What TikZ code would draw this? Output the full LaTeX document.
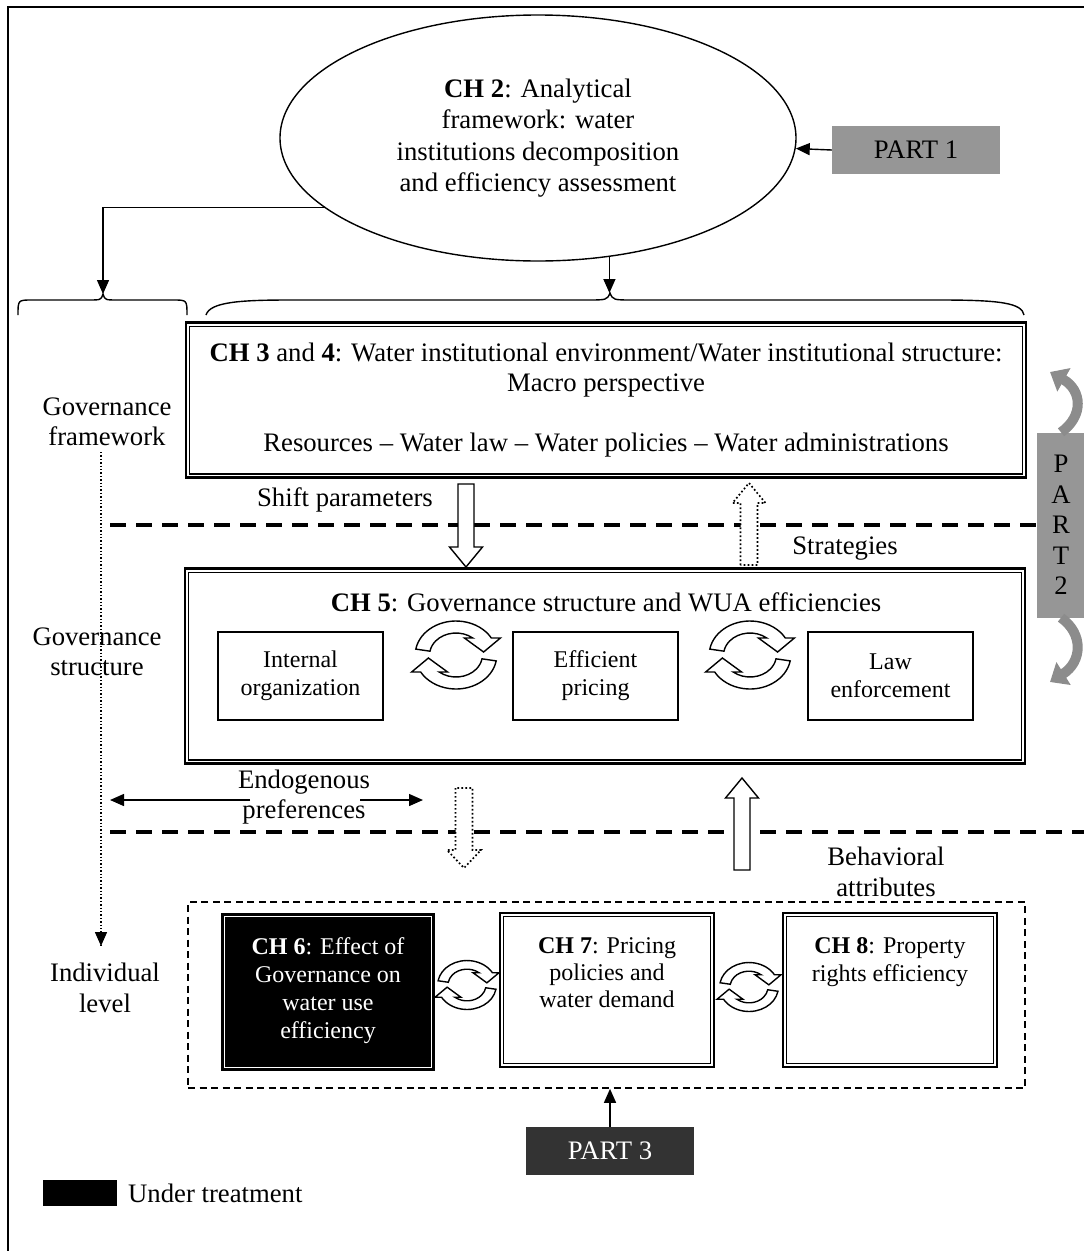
\documentclass[tikz,border=0pt]{standalone}
\usepackage{fontspec}
\setmainfont{Liberation Serif}
\usetikzlibrary{shapes.geometric,arrows.meta}
\newcommand\bodyfont{\fontsize{24pt}{28pt}\selectfont}
\newcommand\loosefont{\fontsize{26.7pt}{30.5pt}\selectfont}
\newcommand\ovalfont{\fontsize{26.7pt}{31.5pt}\selectfont}
% vertical block arrow: options, centre x, tail y, head base y, tip y, half shaft, half head
\newcommand\vblock[7]{%
  \path[#1] ({#2-#6},#3) -- ({#2-#6},#4) -- ({#2-#7},#4) -- (#2,#5)
    -- ({#2+#7},#4) -- ({#2+#6},#4) -- ({#2+#6},#3) -- cycle;}
\begin{document}
\begin{tikzpicture}[x=1pt,y=-1pt,line join=miter,
  lbl/.style={font=\loosefont, align=center, inner sep=0pt},
  boxtxt/.style={font=\bodyfont, align=center, inner sep=0pt, anchor=north},
  conn/.style={line width=1.4pt, -{Triangle[length=14pt,width=12pt]}},
  brace/.style={line width=1.4pt},
  outerbox/.style={draw, line width=2.8pt, inner sep=0pt},
  innerline/.style={line width=1.2pt},
  plainbox/.style={draw, line width=1.3pt, minimum width=165pt, minimum height=88pt,
    font=\bodyfont, align=center, inner sep=0pt},
  cutline/.style={line width=3.5pt, dash pattern=on 16pt off 10pt},
  hollow/.style={draw, fill=white, line width=1.4pt},
  dotty/.style={draw, fill=white, line width=1.7pt, dash pattern=on 1.7pt off 2.3pt},
  partbox/.style={minimum width=168pt, minimum height=48pt, inner sep=0pt, font=\loosefont},
  curlarrow/.style={line width=10pt, draw=black!45, -{Triangle[length=16pt,width=26pt]}},
  % pair of curved block arrows turning clockwise
  cyc/.pic={
    \begin{scope}[yscale=-1, xscale=1.2]
      \foreach \r in {0,180}{
        \path[hollow, rotate=\r] (170:34) arc[start angle=170, end angle=30, radius=34]
          -- (37,17) -- (23,3) -- (7,17) -- (50.6:22)
          arc[start angle=50.6, end angle=170, radius=22] -- cycle;
      }
    \end{scope}
  },
]
\useasboundingbox (0,0) rectangle (1084,1251);

% page frame
\draw[line width=1.6pt] (8,1251) -- (8,7) -- (1084,7);

% chapter 2 oval and part 1
\node[draw, ellipse, line width=1.4pt, minimum width=516pt, minimum height=246pt,
  inner sep=0pt, font=\ovalfont, align=center] (ell) at (538,138)
  {\textbf{CH 2}: Analytical\\framework: water\\institutions decomposition\\and efficiency assessment};
\node[partbox, fill=black!41] (p1) at (916,150) {PART 1};
\draw[conn] (p1.west) -- (ell);

% braces
\coordinate (lbtip) at (103,294);
\coordinate (rbtip) at (610,293);
\draw[brace] (18,315) .. controls (18,300) .. (32,300) -- (88,300)
  .. controls (101,300) .. (lbtip) .. controls (105,300) .. (118,300) -- (173,300)
  .. controls (187,300) .. (187,315);
\draw[brace] (206,315) .. controls (210,302) and (240,300) .. (290,300) -- (586,300)
  .. controls (607,300) .. (rbtip) .. controls (613,300) .. (634,300) -- (940,300)
  .. controls (1000,300) and (1022,303) .. (1024,315);
\draw[conn] (ell.198) -| (lbtip);
\draw[conn] (ell.301) -- (ell.301 |- rbtip);

% level labels and the vertical dotted guide
\coordinate (vtop) at (101,452);
\coordinate (vbot) at (101,946);
\draw[line width=1.4pt, dash pattern=on 1.4pt off 2pt] (vtop) -- (vbot);
\draw[line width=1.4pt, -{Triangle[length=14pt,width=12pt]}] ([yshift=2pt]vbot) -- (vbot);
\node[lbl] (gf) at (107,422) {Governance\\framework};
\node[lbl] (gs) at (97,652) {Governance\\structure};
\node[lbl] (il) at (105,988) {Individual\\level};

% chapter 3 and 4
\node[outerbox, minimum width=840pt, minimum height=155pt] (ch3) at (606,400) {};
\node[lbl, font=\fontsize{26.7pt}{30pt}\selectfont] (ch3t) at (606,400)
  {\textbf{CH 3} and \textbf{4}: Water institutional environment/Water institutional structure:\\
   Macro perspective\\[30pt]
   Resources – Water law – Water policies – Water administrations};

% part 2 with its curved arrows
\node[fill=black!41, minimum width=48pt, minimum height=185pt, inner sep=0pt,
  font=\fontsize{26.7pt}{30.5pt}\selectfont, align=center] (p2) at (1061,525) {P\\A\\R\\T\\2};
\draw[curlarrow] (p2.north) .. controls (1084,416) and (1082,390) .. (1050,372);
\draw[curlarrow] (p2.south) .. controls (1084,634) and (1082,662) .. (1050,682);

% first separation line
\coordinate (cutA) at (110,525);
\draw[cutline] (cutA) -- (p2.west);
\node[lbl] (shift) at (345,500) {Shift parameters};
\node[lbl] (strat) at (845,549) {Strategies};

% arrows between macro and governance levels
\vblock{hollow}{466}{484}{547}{567}{8}{16.5}
\vblock{dotty}{749}{565}{503}{483}{8.5}{16.5}

% chapter 5
\node[outerbox, minimum width=840pt, minimum height=195pt] (ch5) at (605,666) {};
\node[lbl] (ch5t) at (606,602) {\textbf{CH 5}: Governance structure and WUA efficiencies};
\node[plainbox] (io) at (300.5,676) {Internal\\organization};
\node[plainbox] (ep) at (595.5,676) {Efficient\\pricing};
\node[plainbox] (le) at (890.5,676) {Law\\enforcement};
\pic at (456,655) {cyc};
\pic at (750,655) {cyc};

% endogenous preferences
\node[lbl] (endo) at (304,797) {Endogenous\\preferences};
\coordinate (endoL) at (110,800);
\coordinate (endoLs) at (250,800);
\coordinate (endoRs) at (360,800);
\coordinate (endoR) at (423,800);
\draw[conn] (endoLs) -- (endoL);
\draw[conn] (endoRs) -- (endoR);

% second separation line
\coordinate (cutB) at (110,832);
\coordinate (cutBe) at (1084,832);
\draw[cutline] (cutB) -- (cutBe);

\vblock{dotty}{464}{788}{850}{868}{8.5}{17}
\vblock{hollow}{742}{870}{798}{778}{8}{16.5}
\node[lbl] (beh) at (886,872) {Behavioral\\attributes};

% individual level
\node[draw, line width=1.6pt, dash pattern=on 7pt off 4.5pt, minimum width=837pt,
  minimum height=186pt, inner sep=0pt] (indiv) at (606.5,995) {};
\node[draw, fill=black, line width=1.4pt, minimum width=212pt, minimum height=156pt,
  inner sep=0pt] (ch6) at (328,992) {};
\draw[white, line width=1.1pt] ([xshift=3.5pt,yshift=-3.5pt]ch6.north west)
  rectangle ([xshift=-3.5pt,yshift=3.5pt]ch6.south east);
\node[boxtxt, text=white] (ch6t) at (328,937)
  {\textbf{CH 6}: Effect of\\Governance on\\water use\\efficiency};
\node[outerbox, minimum width=214pt, minimum height=154pt] (ch7) at (607,990) {};
\node[boxtxt, font=\fontsize{24pt}{27pt}\selectfont] (ch7t) at (607,937)
  {\textbf{CH 7}: Pricing\\policies and\\water demand};
\node[outerbox, minimum width=214pt, minimum height=154pt] (ch8) at (890,990) {};
\node[boxtxt] (ch8t) at (890,937) {\textbf{CH 8}: Property\\rights efficiency};
\foreach \b in {ch3,ch5,ch7,ch8}
  \draw[innerline] ([xshift=5pt,yshift=-5pt]\b.north west)
    rectangle ([xshift=-5pt,yshift=5pt]\b.south east);
\pic[scale=0.72] at (467,985) {cyc};
\pic[scale=0.72] at (749,987) {cyc};

% part 3
\node[partbox, fill=black!80, text=white] (p3) at (610,1151) {PART 3};
\draw[conn] (p3.north) -- (p3.north |- indiv.south);

% legend
\node[fill=black, minimum width=74pt, minimum height=26pt, inner sep=0pt] (key) at (80,1193) {};
\node[font=\fontsize{26.7pt}{30pt}\selectfont, anchor=west, inner sep=0pt] (keyt) at (128,1193) {Under treatment};
\end{tikzpicture}
\end{document}
